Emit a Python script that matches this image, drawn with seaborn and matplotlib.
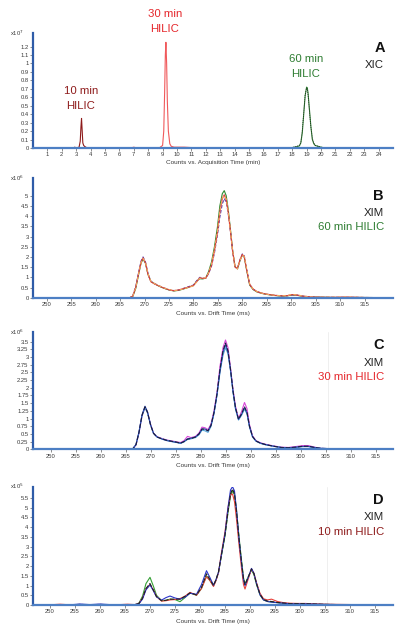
import numpy as np
import pandas as pd
import matplotlib
matplotlib.use('Agg')
import matplotlib.pyplot as plt
import seaborn as sns

# ---------------- data ----------------
# Panel A: XIC, acquisition time (min) vs counts (x10^7)
xic10_time = [0, 2.8, 2.9, 3.0, 3.2, 3.28, 3.33, 3.37, 3.41, 3.46, 3.52, 3.58, 3.66, 3.8, 25]
xic10_counts = [0, 0, 0.01, 0, 0.01, 0.08, 0.25, 0.35, 0.22, 0.06, 0.03, 0.02, 0.01, 0, 0]

xic30_time = [0, 6.8, 7.0, 7.2, 8.8, 9.0, 9.08, 9.14, 9.19, 9.23, 9.28, 9.33, 9.4, 9.5, 9.6,
              9.8, 10.5, 11.0, 12.0, 25]
xic30_counts = [0, 0, 0.01, 0, 0.005, 0.03, 0.2, 0.65, 1.1, 1.25, 1.0, 0.55, 0.2, 0.05, 0.02,
                0.01, 0.01, 0.005, 0, 0]

xic60_time = [0, 17.5, 18.0, 18.3, 18.5, 18.6, 18.7, 18.8, 18.9, 19.0, 19.05, 19.1, 19.2, 19.3,
              19.4, 19.5, 19.6, 19.8, 20.0, 20.3, 25]
xic60_counts = [0, 0, 0.005, 0.015, 0.025, 0.06, 0.18, 0.4, 0.62, 0.72, 0.71, 0.65, 0.45, 0.25,
                0.1, 0.05, 0.03, 0.02, 0.01, 0, 0]
xic60_dots = [0, 0, 0.005, 0.02, 0.03, 0.07, 0.2, 0.42, 0.63, 0.71, 0.7, 0.63, 0.43, 0.24,
              0.11, 0.06, 0.03, 0.02, 0.01, 0, 0]

# Panel B: XIM, 60 min HILIC, drift time (ms) vs counts (x10^6)
b_time = [247.2, 267.0, 267.6, 268.2, 268.8, 269.3, 269.7, 270.2, 270.7, 271.3, 272.0, 273.0,
          274.0, 275.0, 276.0, 277.0, 278.0, 279.0, 280.0, 280.7, 281.3, 281.9, 282.5, 283.1,
          283.7, 284.3, 284.9, 285.4, 285.9, 286.3, 286.7, 287.1, 287.5, 288.0, 288.5, 289.0,
          289.5, 290.0, 290.4, 290.9, 291.5, 292.2, 293.0, 294.0, 295.0, 296.5, 298.0, 299.2,
          300.2, 301.2, 302.2, 303.5, 305.0, 307.0, 309.0, 311.0, 313.0, 315.0, 320.8]
b_red = [0, 0, 0.08, 0.5, 1.2, 1.75, 1.95, 1.7, 1.15, 0.78, 0.68, 0.57, 0.47, 0.39, 0.34, 0.38,
         0.45, 0.52, 0.6, 0.8, 0.97, 0.95, 0.95, 1.2, 1.6, 2.3, 3.2, 4.2, 4.85, 5.05, 4.8, 4.2,
         3.4, 2.3, 1.5, 1.45, 1.85, 2.12, 2.0, 1.35, 0.65, 0.42, 0.3, 0.22, 0.17, 0.12, 0.09,
         0.1, 0.15, 0.13, 0.08, 0.05, 0.03, 0.02, 0.02, 0.03, 0.02, 0.01, 0]
b_orange = [0, 0, 0.07, 0.48, 1.18, 1.72, 1.92, 1.72, 1.2, 0.8, 0.7, 0.58, 0.48, 0.4, 0.35, 0.37,
            0.44, 0.5, 0.58, 0.78, 0.95, 0.97, 0.97, 1.22, 1.65, 2.35, 3.25, 4.25, 4.9, 5.0, 4.85,
            4.25, 3.45, 2.35, 1.55, 1.4, 1.8, 2.08, 2.02, 1.4, 0.68, 0.43, 0.3, 0.22, 0.17, 0.12,
            0.1, 0.11, 0.16, 0.14, 0.09, 0.05, 0.03, 0.03, 0.03, 0.04, 0.03, 0.01, 0]
b_green = [0, 0, 0.06, 0.45, 1.15, 1.7, 1.9, 1.68, 1.15, 0.8, 0.69, 0.56, 0.46, 0.38, 0.33, 0.36,
           0.43, 0.51, 0.6, 0.82, 0.93, 0.92, 0.96, 1.28, 1.75, 2.5, 3.45, 4.5, 5.1, 5.25, 5.0,
           4.35, 3.5, 2.35, 1.52, 1.42, 1.8, 2.1, 1.98, 1.32, 0.62, 0.4, 0.28, 0.21, 0.16, 0.11,
           0.08, 0.09, 0.13, 0.12, 0.07, 0.04, 0.03, 0.02, 0.01, 0.01, 0.01, 0.01, 0]
b_purple = [0, 0, 0.1, 0.55, 1.25, 1.8, 2.0, 1.75, 1.2, 0.8, 0.7, 0.58, 0.48, 0.39, 0.35, 0.38,
            0.46, 0.54, 0.62, 0.84, 1.0, 0.96, 0.95, 1.18, 1.55, 2.2, 3.05, 3.95, 4.6, 4.85, 4.7,
            4.15, 3.4, 2.3, 1.5, 1.42, 1.85, 2.15, 2.05, 1.38, 0.66, 0.42, 0.3, 0.22, 0.17, 0.12,
            0.09, 0.1, 0.14, 0.12, 0.08, 0.05, 0.03, 0.02, 0.02, 0.02, 0.02, 0.01, 0]

# Panel C: XIM, 30 min HILIC (x10^6)
c_time = [246.4, 265.8, 266.4, 267.0, 267.6, 268.2, 268.8, 269.3, 269.9, 270.5, 271.2, 272.2,
          273.2, 274.2, 275.2, 275.9, 276.6, 277.3, 278.0, 278.9, 279.6, 280.2, 280.8, 281.4,
          282.0, 282.6, 283.2, 283.8, 284.4, 284.9, 285.4, 285.9, 286.4, 286.9, 287.5, 288.1,
          288.7, 289.2, 289.7, 290.3, 291.0, 291.9, 293.0, 294.5, 296.0, 297.5, 299.0, 300.3,
          301.5, 302.7, 304.0, 306.0, 308.0, 310.0, 312.0, 314.0, 316.0, 318.4]
c_navy = [0, 0, 0.02, 0.15, 0.55, 1.1, 1.38, 1.2, 0.8, 0.52, 0.4, 0.34, 0.29, 0.26, 0.23, 0.2,
          0.25, 0.33, 0.35, 0.4, 0.5, 0.66, 0.65, 0.6, 0.78, 1.2, 1.8, 2.6, 3.2, 3.45, 3.2, 2.6,
          1.9, 1.35, 0.98, 1.15, 1.38, 1.2, 0.75, 0.42, 0.27, 0.2, 0.15, 0.1, 0.06, 0.05, 0.07,
          0.1, 0.1, 0.06, 0.03, 0.02, 0.02, 0.02, 0.01, 0.01, 0.01, 0.01]
c_magenta = [0, 0, 0.02, 0.14, 0.53, 1.08, 1.36, 1.2, 0.82, 0.53, 0.41, 0.35, 0.3, 0.27, 0.24,
             0.22, 0.28, 0.42, 0.38, 0.42, 0.53, 0.72, 0.7, 0.64, 0.82, 1.25, 1.85, 2.7, 3.3,
             3.55, 3.3, 2.65, 1.95, 1.4, 1.0, 1.22, 1.52, 1.32, 0.8, 0.44, 0.28, 0.21, 0.16, 0.11,
             0.07, 0.06, 0.09, 0.12, 0.12, 0.07, 0.03, 0.02, 0.02, 0.02, 0.01, 0.01, 0.01, 0.01]
c_lightblue = [0, 0, 0.02, 0.15, 0.54, 1.08, 1.35, 1.18, 0.8, 0.52, 0.4, 0.34, 0.29, 0.25, 0.22,
               0.19, 0.24, 0.32, 0.34, 0.38, 0.47, 0.62, 0.6, 0.55, 0.74, 1.15, 1.75, 2.5, 3.05,
               3.3, 3.1, 2.55, 1.85, 1.3, 0.95, 1.1, 1.3, 1.15, 0.72, 0.4, 0.26, 0.19, 0.14, 0.1,
               0.06, 0.05, 0.06, 0.09, 0.09, 0.05, 0.03, 0.02, 0.02, 0.01, 0.01, 0.01, 0.01, 0.01]
c_blue = [0, 0, 0.03, 0.16, 0.57, 1.12, 1.4, 1.22, 0.8, 0.52, 0.4, 0.33, 0.28, 0.25, 0.22, 0.2,
          0.25, 0.34, 0.36, 0.4, 0.5, 0.66, 0.66, 0.6, 0.77, 1.18, 1.78, 2.55, 3.15, 3.4, 3.15,
          2.58, 1.88, 1.33, 0.97, 1.13, 1.35, 1.18, 0.74, 0.41, 0.27, 0.2, 0.15, 0.1, 0.06, 0.05,
          0.07, 0.09, 0.09, 0.06, 0.03, 0.02, 0.02, 0.02, 0.01, 0.01, 0.01, 0.01]

# Panel D: XIM, 10 min HILIC (x10^5)
d_time = [246.6, 250.0, 252.0, 254.0, 256.0, 258.0, 260.0, 262.0, 264.0, 265.5, 267.0, 267.8,
          268.5, 269.2, 270.0, 270.7, 271.3, 272.3, 273.2, 274.0, 275.0, 276.0, 277.0, 278.0,
          279.3, 280.3, 281.3, 282.0, 282.7, 283.2, 283.7, 284.3, 285.0, 285.6, 286.1, 286.5,
          286.9, 287.3, 287.8, 288.3, 288.7, 289.0, 289.6, 290.3, 290.8, 291.3, 292.0, 292.7,
          293.5, 294.3, 295.5, 296.7, 298.0, 299.5, 301.0, 303.0, 305.0, 308.0, 311.0, 314.0,
          318.6]
d_black = [0, 0.01, 0.02, 0.01, 0.03, 0.01, 0.03, 0.01, 0.01, 0.02, 0.02, 0.08, 0.35, 0.85, 1.1,
           0.75, 0.43, 0.22, 0.24, 0.3, 0.3, 0.3, 0.45, 0.62, 0.52, 0.9, 1.6, 1.3, 1.0, 1.3, 1.7,
           2.6, 3.6, 4.8, 5.7, 5.95, 5.7, 4.8, 3.4, 2.2, 1.35, 1.05, 1.4, 1.85, 1.6, 1.1, 0.55,
           0.28, 0.2, 0.18, 0.13, 0.1, 0.07, 0.07, 0.07, 0.05, 0.03, 0.02, 0.02, 0.02, 0.01]
d_blue = [0, 0.01, 0.01, 0.01, 0.05, 0.02, 0.05, 0.02, 0.01, 0.01, 0.02, 0.07, 0.3, 0.78, 1.03,
          0.72, 0.42, 0.25, 0.38, 0.46, 0.36, 0.3, 0.4, 0.6, 0.55, 1.05, 1.76, 1.4, 1.02, 1.3, 1.68,
          2.6, 3.65, 5.0, 5.9, 6.07, 5.85, 4.9, 3.4, 2.15, 1.3, 1.0, 1.38, 1.88, 1.62, 1.1, 0.52,
          0.26, 0.18, 0.15, 0.12, 0.09, 0.06, 0.06, 0.06, 0.04, 0.03, 0.02, 0.02, 0.01, 0.01]
d_red = [0, 0.01, 0.04, 0.01, 0.02, 0.01, 0.02, 0.01, 0.02, 0.04, 0.02, 0.09, 0.35, 0.82, 1.06,
         0.76, 0.44, 0.2, 0.22, 0.26, 0.28, 0.33, 0.45, 0.65, 0.5, 0.85, 1.45, 1.25, 0.95, 1.25,
         1.65, 2.7, 3.75, 5.0, 5.65, 5.7, 5.3, 4.4, 3.1, 1.9, 1.05, 0.82, 1.3, 1.85, 1.62, 1.15,
         0.6, 0.32, 0.26, 0.3, 0.18, 0.12, 0.09, 0.08, 0.08, 0.06, 0.04, 0.03, 0.02, 0.02, 0.01]
d_green = [0, 0.01, 0.01, 0.01, 0.02, 0.01, 0.02, 0.01, 0.01, 0.01, 0.02, 0.1, 0.45, 1.1, 1.42,
           0.95, 0.5, 0.22, 0.24, 0.3, 0.28, 0.17, 0.38, 0.62, 0.5, 0.85, 1.5, 1.25, 0.98, 1.28,
           1.68, 2.55, 3.55, 4.75, 5.6, 5.85, 5.65, 4.85, 3.5, 2.3, 1.4, 1.08, 1.42, 1.8, 1.55,
           1.05, 0.52, 0.26, 0.18, 0.15, 0.12, 0.09, 0.06, 0.06, 0.06, 0.04, 0.03, 0.02, 0.01,
           0.01, 0.01]

# faint vertical marker seen in panels C and D (ms)
marker_time = 305.3

# ---------------- styling ----------------
sns.set_theme(style='white')
plt.rcParams['font.family'] = ['Liberation Sans', 'DejaVu Sans']

W, H = 403, 633
fig = plt.figure(figsize=(W / 100, H / 100), dpi=100)
fig.patch.set_facecolor('white')


def px_axes(left, top, right, bottom):
    return fig.add_axes([left / W, 1 - bottom / H, (right - left) / W, (bottom - top) / H])


def ftext(x, y, s, **kw):
    fig.text(x / W, 1 - y / H, s, **kw)


def draw(ax, x, y, color, ls='-', lw=0.8):
    df = pd.DataFrame({'x': x, 'y': y})
    sns.lineplot(data=df, x='x', y='y', ax=ax, color=color, linestyle=ls, linewidth=lw,
                 estimator=None, sort=False)


def style_axes(ax, xlim, ylim, yticks, xticks, xlabel, exp, label_y):
    ax.set_xlim(*xlim)
    ax.set_ylim(*ylim)
    ax.set_yticks(yticks)
    ax.set_yticklabels([f'{t:g}' for t in yticks])
    ax.set_xticks(xticks)
    ax.set_xticklabels([f'{t:g}' for t in xticks])
    for s in ['top', 'right']:
        ax.spines[s].set_visible(False)
    ax.spines['left'].set_color('#2f5ca8')
    ax.spines['left'].set_linewidth(1.6)
    ax.spines['bottom'].set_color('#4d7fc4')
    ax.spines['bottom'].set_linewidth(1.6)
    ax.tick_params(axis='both', which='major', direction='out', length=2, width=0.5,
                   color='#606060', labelsize=4.2, labelcolor='#3a3a3a', pad=1.2,
                   left=True, bottom=True)
    ax.set_xlabel(xlabel, fontsize=4.6, color='#3a3a3a')
    ax.xaxis.set_label_coords(0.5, -label_y)
    ax.set_ylabel('')
    ax.text(-0.025, 1.0, 'x10' + r'$^{' + exp + '}$', transform=ax.transAxes, ha='right',
            va='center', fontsize=4.2, color='#3a3a3a')


# ---------------- panel A ----------------
axA = px_axes(33, 33, 393, 148)
draw(axA, xic30_time, xic30_counts, '#f0595b')
draw(axA, xic10_time, xic10_counts, '#8e1b1b')
draw(axA, xic60_time, xic60_counts, '#2e7d32')
draw(axA, xic60_time, xic60_dots, '#202020', ls=(0, (1, 1.5)), lw=0.6)
style_axes(axA, (0, 25), (0, 1.36), [round(0.1 * i, 1) for i in range(13)], list(range(1, 25)),
           'Counts vs. Acquisition Time (min)', '7', 0.104)

ftext(165, 14, '30 min', ha='center', va='center', fontsize=8.2, color='#e5262b')
ftext(165, 28.5, 'HILIC', ha='center', va='center', fontsize=8.2, color='#e5262b')
ftext(81, 91, '10 min', ha='center', va='center', fontsize=8.2, color='#8e1b1b')
ftext(81, 106, 'HILIC', ha='center', va='center', fontsize=8.2, color='#8e1b1b')
ftext(306, 59.5, '60 min', ha='center', va='center', fontsize=8.2, color='#2e7d32')
ftext(306, 74, 'HILIC', ha='center', va='center', fontsize=8.2, color='#2e7d32')
ftext(385, 48.5, 'A', ha='right', va='center', fontsize=10.5, fontweight='bold', color='#111111')
ftext(384, 64.5, 'XIC', ha='right', va='center', fontsize=8.2, color='#222222')

# ---------------- panel B ----------------
axB = px_axes(33, 178, 393, 297.7)
draw(axB, b_time, b_green, '#2e8b2e')
draw(axB, b_time, b_purple, '#5a3fa8', ls=(0, (3, 1.5)))
draw(axB, b_time, b_red, '#e0403a')
draw(axB, b_time, b_orange, '#f4a460', ls=(0, (3, 2)))
style_axes(axB, (247.2, 320.8), (0, 5.87), [0.5 * i for i in range(11)],
           list(range(250, 320, 5)), 'Counts vs. Drift Time (ms)', '6', 0.109)
ftext(384, 196.5, 'B', ha='right', va='center', fontsize=10.5, fontweight='bold', color='#111111')
ftext(384, 212.5, 'XIM', ha='right', va='center', fontsize=8.2, color='#222222')
ftext(384, 227.5, '60 min HILIC', ha='right', va='center', fontsize=8.2, color='#2e7d32')

# ---------------- panel C ----------------
axC = px_axes(33, 332, 393, 449.3)
axC.axvline(marker_time, color='#ececec', lw=0.6, zorder=0)
draw(axC, c_time, c_magenta, '#d845d8')
draw(axC, c_time, c_lightblue, '#58a8d8')
draw(axC, c_time, c_blue, '#2c4cb0')
draw(axC, c_time, c_navy, '#1a1a3c', ls=(0, (4, 1.5)))
style_axes(axC, (246.4, 318.4), (0, 3.81), [0.25 * i for i in range(15)],
           list(range(250, 320, 5)), 'Counts vs. Drift Time (ms)', '6', 0.114)
ftext(384, 345, 'C', ha='right', va='center', fontsize=10.5, fontweight='bold', color='#111111')
ftext(384, 362.5, 'XIM', ha='right', va='center', fontsize=8.2, color='#222222')
ftext(384, 377, '30 min HILIC', ha='right', va='center', fontsize=8.2, color='#e5262b')

# ---------------- panel D ----------------
axD = px_axes(33, 486.7, 393, 605)
axD.axvline(marker_time, color='#ececec', lw=0.6, zorder=0)
draw(axD, d_time, d_green, '#35a035')
draw(axD, d_time, d_red, '#e8403a')
draw(axD, d_time, d_blue, '#2a34c8')
draw(axD, d_time, d_black, '#222222', ls=(0, (4, 1.5)))
style_axes(axD, (246.6, 318.6), (0, 6.07), [0.5 * i for i in range(12)],
           list(range(250, 320, 5)), 'Counts vs. Drift Time (ms)', '5', 0.116)
ftext(384, 500, 'D', ha='right', va='center', fontsize=10.5, fontweight='bold', color='#111111')
ftext(384, 517.5, 'XIM', ha='right', va='center', fontsize=8.2, color='#222222')
ftext(384, 532, '10 min HILIC', ha='right', va='center', fontsize=8.2, color='#8e1b1b')

fig.savefig('out.png', dpi=100, facecolor='white')
